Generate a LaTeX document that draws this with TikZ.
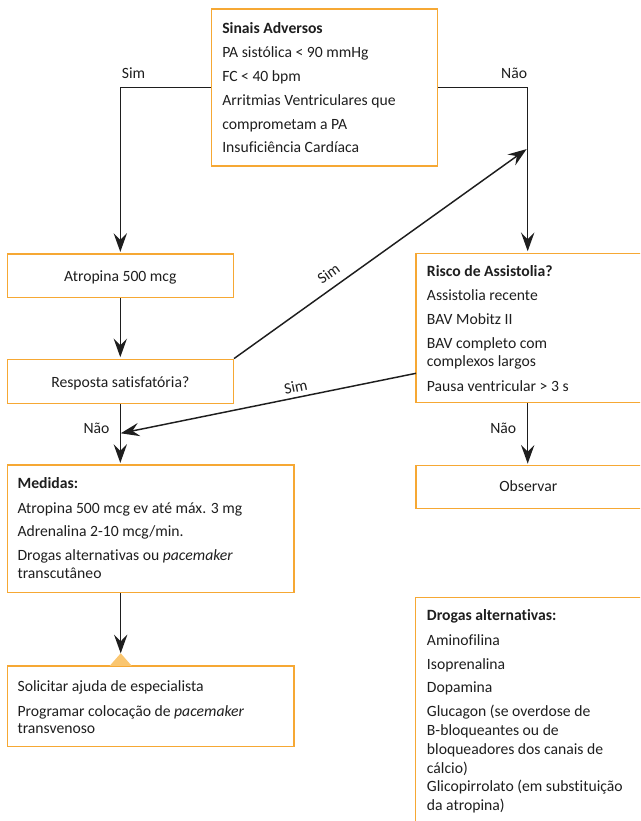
\documentclass[tikz,border=0pt]{standalone}
\usepackage{fontspec}
\setmainfont{Carlito}[Ligatures={NoCommon}]
\usetikzlibrary{arrows.meta,fit}
\definecolor{boxorange}{RGB}{246,168,52}
\definecolor{trifill}{RGB}{250,198,112}
\definecolor{ink}{RGB}{30,30,30}

\begin{document}
\begin{tikzpicture}[x=0.75pt,y=-0.75pt,
  box/.style={draw=boxorange, line width=1.1pt, inner sep=0pt, fit={#1}},
  txt/.style={inner sep=0pt, text=ink, font=\fontsize{11.75}{14}\selectfont},
  ln/.style={txt, anchor=base west},
  cn/.style={txt, anchor=base},
  wire/.style={draw=ink, line width=1.1pt},
  arr/.style={wire, -{Stealth[length=14pt,width=10pt,inset=5pt]}, shorten >=1pt},
  rarr/.style={wire, {Stealth[length=14pt,width=10pt,inset=5pt]}-}]
\useasboundingbox (0,0) rectangle (640,821);
\clip (0,0) rectangle (640,821);

% column guide for the right-hand boxes (they run past the page edge)
\coordinate (colR) at (527.7,0);

% ---------- boxes ----------
\node[box={(211.7,9) (437.3,166)}] (sinais) {};
\node[box={(7.3,254) (233.3,297.5)}] (atrop) {};
\node[box={(7.3,359.3) (233.3,403.3)}] (resp) {};
\node[box={(416,253.3) (700,402.7)}] (risco) {};
\node[box={(416,465.7) (700,508.3)}] (obs) {};
\node[box={(7.3,465) (294,592.3)}] (med) {};
\node[box={(7.3,666) (294,746.7)}] (solic) {};
\node[box={(415.7,597.3) (700,900)}] (drogas) {};

% ---------- texts ----------
\node[ln] (s0) at (222,33) {\bfseries Sinais Adversos};
\node[ln] (s1) at (222,57) {PA sistólica < 90 mmHg};
\node[ln] (s2) at (222,81) {FC < 40 bpm};
\node[ln] (s3) at (222,105) {Arritmias Ventriculares que};
\node[ln] (s4) at (222,129) {comprometam a PA};
\node[ln] (s5) at (222,152.5) {Insuficiência Cardíaca};

\node[cn] (a0) at (120.3,281.7) {Atropina 500 mcg};
\node[cn] (r0) at (120.3,387.3) {Resposta satisfatória?};

\node[ln] (k0) at (426.7,276.7) {\bfseries Risco de Assistolia?};
\node[ln] (k1) at (426.7,300.7) {Assistolia recente};
\node[ln] (k2) at (426.7,324.5) {BAV Mobitz II};
\node[ln] (k3) at (426.7,348.3) {BAV completo com};
\node[ln] (k4) at (426.7,366.7) {complexos largos};
\node[ln] (k5) at (426.7,391.7) {Pausa ventricular > 3 s};

\node[cn] (o0) at (528.3,491.7) {Observar};

\node[ln] (m0) at (17.3,488.3) {\bfseries Medidas:};
\node[ln] (m1) at (17.3,513.3) {Atropina 500 mcg ev até máx. 3 mg};
\node[ln] (m2) at (17.3,536.7) {Adrenalina 2-10 mcg/min.};
\node[ln] (m3) at (17.3,560.7) {Drogas alternativas ou \textit{pacemaker}};
\node[ln] (m4) at (17.3,578.3) {transcutâneo};

\node[ln] (e0) at (17.3,691.7) {Solicitar ajuda de especialista};
\node[ln] (e1) at (17.3,716) {Programar colocação de \textit{pacemaker}};
\node[ln] (e2) at (17.3,733.3) {transvenoso};

\node[ln] (d0) at (426.7,620.7) {\bfseries Drogas alternativas:};
\node[ln] (d1) at (426.7,645) {Aminofilina};
\node[ln] (d2) at (426.7,669) {Isoprenalina};
\node[ln] (d3) at (426.7,692.7) {Dopamina};
\node[ln] (d4) at (426.7,716.7) {Glucagon (se overdose de};
\node[ln] (d5) at (426.7,735.7) {B-bloqueantes ou de};
\node[ln] (d6) at (426.7,754.7) {bloqueadores dos canais de};
\node[ln] (d7) at (426.7,773.3) {cálcio)};
\node[ln] (d8) at (426.7,791.7) {Glicopirrolato (em substituição};
\node[ln] (d9) at (426.7,810) {da atropina)};

% ---------- connectors ----------
\draw[arr] (sinais.west) -| (atrop.north);
\node[ln] (simA) at (121.7,78.3) {Sim};
\draw[arr] (sinais.east) -| (colR |- risco.north);
\node[txt, anchor=base east] (naoA) at (527.3,78.3) {Não};

\draw[arr] (atrop.south) -- (resp.north);

\coordinate (join) at (527.7,148.3);
\draw[arr] (resp.north east) -- node[txt, pos=0.35, sloped, above=6pt] (simB) {Sim} (join);

\coordinate (riscoOut) at (416,373.3);
\coordinate (merge) at (120.7,433.3);
\draw[rarr] (merge) -- node[txt, pos=0.6, sloped, above=3.5pt] (simC) {Sim} (riscoOut);

\draw[arr] (resp.south) -- (resp.south |- med.north);
\node[cn] (naoB) at (96.5,433.3) {Não};

\draw[arr] (colR |- risco.south) -- (colR |- obs.north);
\node[cn] (naoC) at (503.3,433.3) {Não};

% marker on top of the specialist box
\coordinate (triTop) at (120.7,653.3);
\fill[trifill] (triTop) -- (131.7,665.8) -- (109.7,665.8) -- cycle;
\draw[arr, shorten >=0pt] (triTop |- med.south) -- (triTop);
\end{tikzpicture}
\end{document}
